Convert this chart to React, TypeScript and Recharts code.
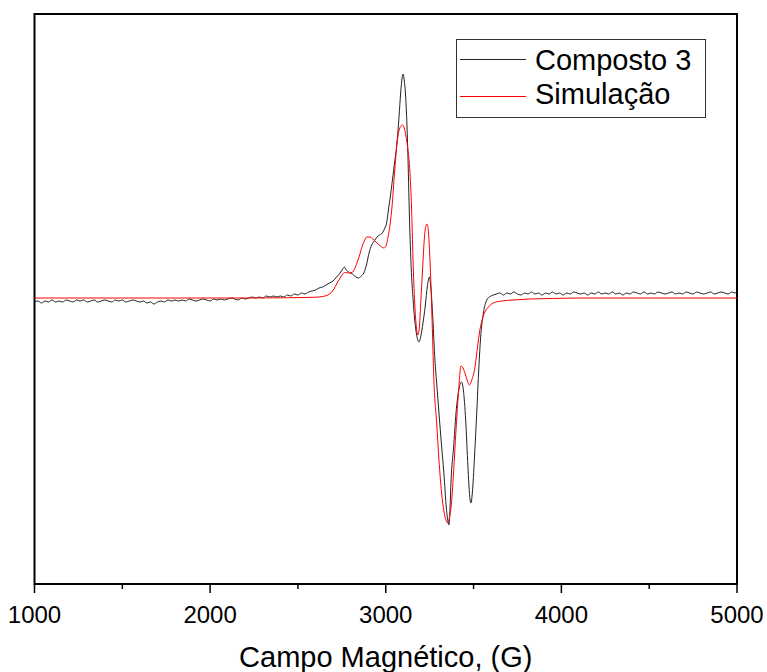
import React from 'react';
import { LineChart, Line, XAxis, YAxis, ReferenceArea } from 'recharts';

// Campo magnético (G) / intensidade (u.a.)
const compostoField = [
  1000, 1020, 1040, 1060, 1080, 1100, 1120, 1140, 1160, 1180, 1200, 1220, 1240, 1260, 1280, 1300,
  1320, 1340, 1360, 1380, 1400, 1420, 1440, 1460, 1480, 1500, 1520, 1540, 1560, 1580, 1600, 1620,
  1640, 1660, 1680, 1700, 1720, 1740, 1760, 1780, 1800, 1820, 1840, 1860, 1880, 1900, 1920, 1940,
  1960, 1980, 2000, 2020, 2040, 2060, 2080, 2100, 2120, 2140, 2160, 2180, 2200, 2220, 2240, 2260,
  2280, 2300, 2320, 2340, 2360, 2380, 2400, 2420, 2440, 2460, 2480, 2500, 2520, 2540, 2560, 2580,
  2600, 2620, 2640, 2660, 2680, 2700, 2720, 2740, 2755, 2765, 2775, 2790, 2810, 2830, 2845, 2860,
  2875, 2890, 2905, 2920, 2935, 2950, 2965, 2980, 2995, 3005, 3015, 3025, 3036, 3050, 3064, 3075,
  3085, 3093, 3099, 3105, 3112, 3118, 3125, 3135, 3145, 3155, 3165, 3175, 3189, 3200, 3212, 3225,
  3237, 3248, 3258, 3268, 3280, 3290, 3303, 3318, 3331, 3345, 3356, 3360, 3366, 3372, 3386, 3400,
  3418, 3431, 3442, 3455, 3468, 3478, 3485, 3493, 3505, 3518, 3530, 3540, 3556, 3575, 3590, 3612,
  3630, 3650, 3670, 3690, 3710, 3730, 3750, 3770, 3790, 3810, 3830, 3850, 3870, 3890, 3910, 3930,
  3950, 3970, 3990, 4010, 4030, 4050, 4070, 4090, 4110, 4130, 4150, 4170, 4190, 4210, 4230, 4250,
  4270, 4290, 4310, 4330, 4350, 4370, 4390, 4410, 4430, 4450, 4470, 4490, 4510, 4530, 4550, 4570,
  4590, 4610, 4630, 4650, 4670, 4690, 4710, 4730, 4750, 4770, 4790, 4810, 4830, 4850, 4870, 4890,
  4910, 4930, 4950, 4970, 4990, 5000,
];
const compostoIntensity = [
  -4, -3, -5, -3, -4, -2, -4, -3, -4, -2, -3, -4, -2, -3, -2, -4,
  -3, -2, -4, -3, -2, -3, -4, -2, -3, -2, -4, -3, -2, -3, -4, -3,
  -5, -4, -6, -4, -3, -4, -2, -3, -2, -3, -2, -3, -1, -2, -3, -2,
  -1, -2, -3, -1, -2, -1, -2, -1, 0, -1, -2, 0, -1, 0, 1, 0,
  1, 0, 2, 1, 2, 1, 2, 1, 3, 2, 4, 3, 5, 4, 6, 7,
  8, 10, 11, 13, 15, 17, 21, 25, 29, 31, 28, 26, 24, 21, 20, 22,
  25, 33, 45, 53, 57, 61, 63, 65, 70, 75, 88, 100, 115, 135, 155, 180,
  205, 220, 224, 218, 205, 185, 150, 80, 30, 0, -22, -36, -44, -38, -25, -8,
  12, 21, 8, -20, -62, -85, -115, -148, -175, -210, -225, -227, -210, -182, -150, -115,
  -90, -84, -92, -122, -169, -198, -205, -195, -160, -115, -70, -40, -15, -2, 1, 3,
  4, 5, 3, 5, 4, 6, 4, 3, 5, 4, 6, 4, 5, 3, 5, 4,
  6, 4, 5, 3, 5, 4, 6, 5, 4, 5, 3, 5, 4, 6, 4, 5,
  4, 6, 4, 5, 3, 5, 4, 6, 5, 4, 6, 4, 5, 4, 6, 5,
  4, 5, 6, 4, 5, 4, 6, 5, 4, 6, 5, 4, 5, 6, 4, 5,
  6, 5, 4, 6, 5, 7,
];

const simulacaoField = [
  1000, 1500, 2000, 2200, 2400, 2500, 2600, 2640, 2670, 2690, 2705, 2720, 2740, 2755, 2770, 2790,
  2808, 2825, 2840, 2855, 2868, 2880, 2893, 2910, 2927, 2950, 2970, 2990, 3003, 3013, 3025, 3036,
  3050, 3064, 3075, 3087, 3096, 3105, 3115, 3125, 3138, 3147, 3155, 3165, 3175, 3183, 3192, 3200,
  3210, 3220, 3228, 3235, 3242, 3250, 3258, 3266, 3274, 3290, 3303, 3318, 3331, 3345, 3353, 3362,
  3372, 3386, 3400, 3414, 3428, 3440, 3451, 3465, 3476, 3490, 3508, 3522, 3536, 3550, 3565, 3590,
  3612, 3660, 3726, 3821, 3950, 4100, 4500, 5000,
];
const simulacaoIntensity = [
  0, 0, 0, 0, 0.2, 0.4, 0.8, 1.5, 3, 5.5, 9, 14, 20, 24, 25.5, 25,
  25.5, 30, 37, 45, 53, 58, 61, 61, 59, 55, 52, 50, 53, 61, 74, 92,
  125, 155, 167, 172, 173, 170, 162, 150, 125, 90, 40, -5, -30, -37, -28, -2,
  30, 60, 72, 74, 68, 45, 10, -35, -82, -125, -162, -195, -213, -223, -225, -220,
  -209, -175, -132, -95, -68, -70, -75, -83, -87, -82, -69, -50, -32, -21, -14, -8,
  -5, -3, -2, -1, -0.5, 0, 0, 0,
];

const xTicks = [1000, 1500, 2000, 2500, 3000, 3500, 4000, 4500, 5000];
const xDomain: [number, number] = [1000, 5000];
const yDomain: [number, number] = [-286, 284];

const compostoData = compostoField.map((x, i) => ({ x, y: compostoIntensity[i] }));
const simulacaoData = simulacaoField.map((x, i) => ({ x, y: simulacaoIntensity[i] }));

const FONT = '"Liberation Sans", Arial, sans-serif';

const BottomTick = (props: any) => {
  const { x, y, payload } = props;
  const major = payload.value % 1000 === 0;
  return (
    <g>
      <line x1={x} x2={x} y1={y} y2={y + (major ? 9 : 5)} stroke="#000" strokeWidth={1.5} />
      {major && (
        <text x={x} y={y + 39} textAnchor="middle" fontSize={24} fontFamily={FONT} fill="#000">
          {payload.value}
        </text>
      )}
    </g>
  );
};

const LegendBox = () => (
  <svg
    width={250}
    height={79}
    style={{ position: 'absolute', left: 456, top: 39, display: 'block' }}
  >
    <rect x={0.5} y={0.5} width={249} height={78} fill="#fff" stroke="#333" strokeWidth={1} />
    <line x1={4} x2={70} y1={20.5} y2={20.5} stroke="#222" strokeWidth={1} />
    <text x={79} y={31} fontSize={29} fontFamily={FONT} fill="#000">Composto 3</text>
    <line x1={4} x2={70} y1={57.5} y2={57.5} stroke="#ff0000" strokeWidth={1} />
    <text x={79} y={65} fontSize={29} fontFamily={FONT} fill="#000">Simulação</text>
  </svg>
);

const TitleLabel = (props: any) => {
  const { viewBox } = props;
  const cx = viewBox.x + viewBox.width / 2;
  return (
    <text x={cx} y={viewBox.y + 83} textAnchor="middle" fontSize={29} fontFamily={FONT} fill="#000">
      Campo Magnético, (G)
    </text>
  );
};

export default function App() {
  return (
    <div style={{ position: 'absolute', left: 0, top: 0, width: 767, height: 672, background: '#fff' }}>
      <LineChart
        width={767}
        height={672}
        margin={{ top: 14, right: 30, left: 34.5, bottom: 0 }}
      >
        <XAxis
          dataKey="x"
          type="number"
          domain={xDomain}
          ticks={xTicks}
          allowDataOverflow
          height={88}
          tickSize={0}
          tickMargin={0}
          tickLine={false}
          tick={<BottomTick />}
          axisLine={{ stroke: '#000', strokeWidth: 2 }}
          interval={0}
          label={<TitleLabel />}
        />
        <YAxis
          type="number"
          domain={yDomain}
          allowDataOverflow
          width={0}
          tick={false}
          tickLine={false}
          axisLine={false}
        />
        <Line
          data={compostoData}
          dataKey="y"
          name="Composto 3"
          type="monotone"
          stroke="#222"
          strokeWidth={1}
          dot={false}
          activeDot={false}
          isAnimationActive={false}
        />
        <Line
          data={simulacaoData}
          dataKey="y"
          name="Simulação"
          type="monotone"
          stroke="#ff0000"
          strokeWidth={1}
          dot={false}
          activeDot={false}
          isAnimationActive={false}
        />
        <ReferenceArea
          x1={xDomain[0]}
          x2={xDomain[1]}
          y1={yDomain[0]}
          y2={yDomain[1]}
          fill="none"
          fillOpacity={0}
          stroke="#000"
          strokeWidth={2}
          ifOverflow="visible"
        />
      </LineChart>
      <LegendBox />
    </div>
  );
}
